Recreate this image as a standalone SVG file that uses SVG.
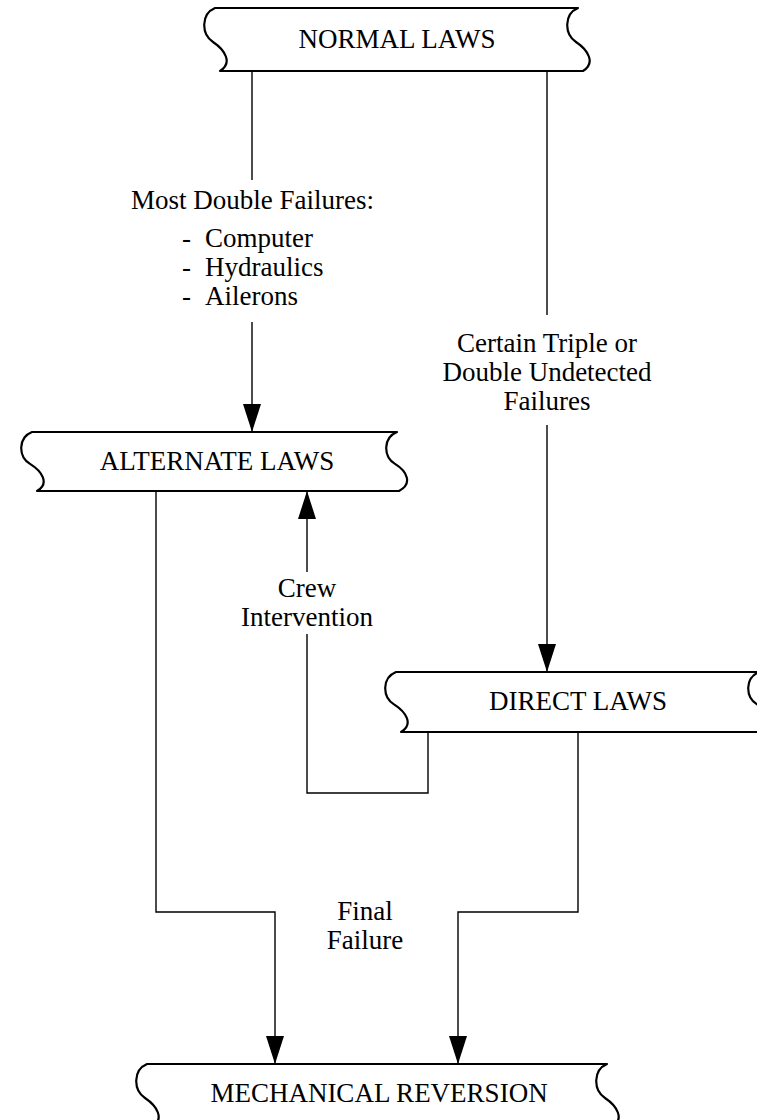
<svg xmlns="http://www.w3.org/2000/svg" width="757" height="1120" viewBox="0 0 757 1120">
<defs>
<style>
.banner{fill:#fff;stroke:#000;stroke-width:2.2;stroke-linejoin:round}
.t{font-family:"Liberation Serif","Times New Roman",serif;font-size:27px;fill:#000;text-anchor:middle}
.ts{font-family:"Liberation Serif","Times New Roman",serif;font-size:27px;fill:#000}
.c{fill:none;stroke:#000;stroke-width:1.4}
</style>
<marker id="arr" viewBox="0 0 28 18" refX="28" refY="9" markerWidth="28" markerHeight="18" markerUnits="userSpaceOnUse" orient="auto">
<path d="M0,0 L28,9 L0,18 Z" fill="#000"/>
</marker>
</defs>
<rect width="757" height="1120" fill="#fff"/>
<g id="connectors">
<path class="c" d="M252,72 V180"/>
<path class="c" d="M252,322 V432" marker-end="url(#arr)"/>
<path class="c" d="M547,72 V315"/>
<path class="c" d="M547,425 V672" marker-end="url(#arr)"/>
<path class="c" d="M428,732 V793 H307 V634"/>
<path class="c" d="M307,572 V491" marker-end="url(#arr)"/>
<path class="c" d="M156,491 V912 H275 V1064" marker-end="url(#arr)"/>
<path class="c" d="M578,732 V912 H458 V1064" marker-end="url(#arr)"/>
</g>
<g id="label-double">
<text class="t" x="252.5" y="209">Most Double Failures:</text>
<text class="ts" x="182" y="247">-</text>
<text class="ts" x="205" y="247">Computer</text>
<text class="ts" x="182" y="276">-</text>
<text class="ts" x="205" y="276">Hydraulics</text>
<text class="ts" x="182" y="305">-</text>
<text class="ts" x="205" y="305">Ailerons</text>
</g>
<g id="label-triple">
<text class="t" x="547" y="352">Certain Triple or</text>
<text class="t" x="547" y="381">Double Undetected</text>
<text class="t" x="547" y="410">Failures</text>
</g>
<g id="label-crew">
<text class="t" x="307" y="597">Crew</text>
<text class="t" x="307" y="626">Intervention</text>
</g>
<g id="label-final">
<text class="t" x="365" y="920">Final</text>
<text class="t" x="365" y="949">Failure</text>
</g>
<g id="normal">
<path class="banner" d="M215,8 H578 C564,14 564,34 576,42 C588,50 596,63 583,71 H220 C233,63 225,50 213,42 C201,34 201,14 215,8 Z"/>
<text class="t" x="397" y="48">NORMAL LAWS</text>
</g>
<g id="alternate">
<path class="banner" d="M32,432 H397 C383,437.6 383,456.4 395,463.9 C407,471.3 413,483.5 399,491 H37 C50,483.5 42,471.3 30,463.9 C18,456.4 18,437.6 32,432 Z"/>
<text class="t" x="217" y="470">ALTERNATE LAWS</text>
</g>
<g id="direct">
<path class="banner" d="M396,672 H759 C745,677.7 745,696.8 757,704.4 C769,712 777,724.4 764,732 H401 C414,724.4 406,712 394,704.4 C382,696.8 382,677.7 396,672 Z"/>
<text class="t" x="578" y="710">DIRECT LAWS</text>
</g>
<g id="mechanical">
<path class="banner" d="M147,1064 H607 C593,1070 593,1090 605,1098 C617,1106 625,1119 612,1127 H152 C165,1119 157,1106 145,1098 C133,1090 133,1070 147,1064 Z"/>
<text class="t" x="379" y="1102">MECHANICAL REVERSION</text>
</g>
</svg>
